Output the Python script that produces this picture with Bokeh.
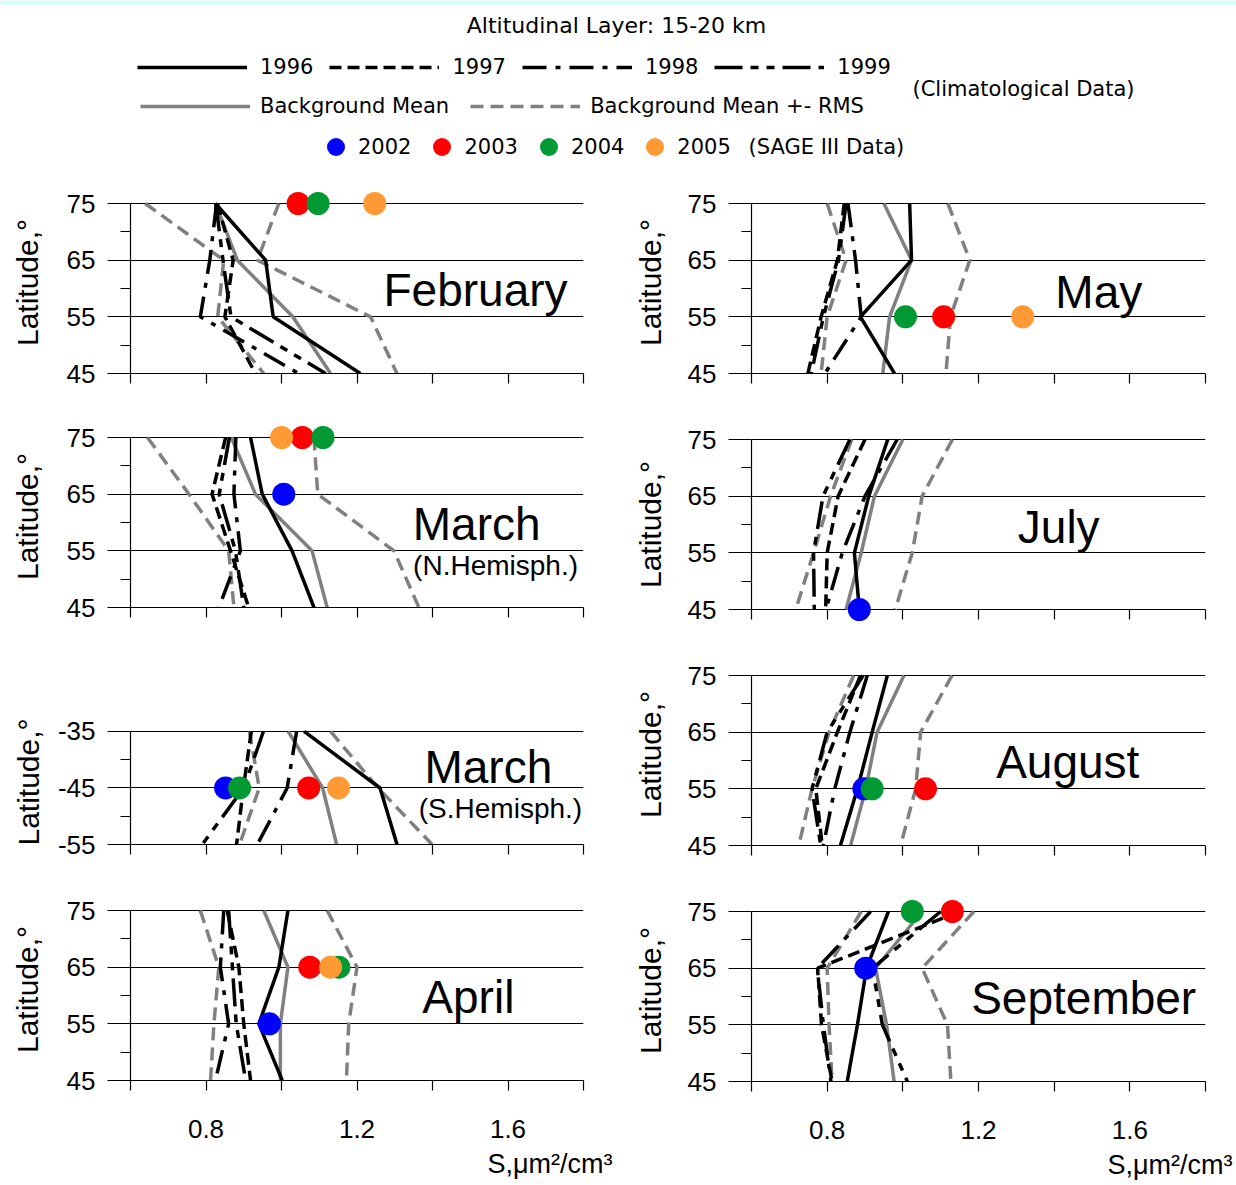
from bokeh.plotting import figure
from bokeh.models import Range1d, FixedTicker, Label, Legend, LegendItem, ColumnDataSource, BoxAnnotation
from bokeh.layouts import column, row
from bokeh.embed import file_html
from bokeh.resources import INLINE

# ---------------- data ----------------
LAT_N = [75, 65, 55, 45]
LAT_S = [-35, -45, -55]
MINOR_N = [70, 60, 50]
MINOR_S = [-40, -50]
X_MAJOR = [0.8, 1.2, 1.6]
X_MINOR = [0.6, 1.0, 1.4, 1.8]
CLIM_YEARS = ["1996", "1997", "1998", "1999"]
SAGE_YEARS = ["2002", "2003", "2004", "2005"]

# February (N. hemisphere, lat 75..45)
feb_1996 = [0.825, 0.958, 0.978, 1.209]
feb_1997 = [0.830, 0.872, 0.850, 0.931]
feb_1998 = [0.828, 0.810, 0.785, 1.046]
feb_1999 = [0.826, 0.845, 0.866, 1.117]
feb_mean = [0.825, 0.883, 1.030, 1.130]
feb_rms_lo = [0.639, 0.847, 0.831, 0.953]
feb_rms_hi = [0.993, 0.936, 1.236, 1.306]
feb_sage_year = ["2003", "2004", "2005"]
feb_sage_lat = [75, 75, 75]
feb_sage_val = [1.044, 1.097, 1.247]

# March (N. hemisphere)
marn_1996 = [0.918, 0.949, 1.028, 1.086]
marn_1997 = [0.852, 0.816, 0.865, 0.913]
marn_1998 = [0.879, 0.874, 0.891, 0.834]
marn_1999 = [0.862, 0.835, 0.878, 0.900]
marn_mean = [0.867, 0.931, 1.081, 1.121]
marn_rms_lo = [0.645, 0.755, 0.860, 0.874]
marn_rms_hi = [1.086, 1.096, 1.298, 1.364]
marn_sage_year = ["2002", "2003", "2004", "2005"]
marn_sage_lat = [65, 75, 75, 75]
marn_sage_val = [1.006, 1.055, 1.110, 1.000]

# March (S. hemisphere, lat -35..-55)
mars_1996 = [1.060, 1.261, 1.306]
mars_1997 = [0.920, 0.899, 0.881]
mars_1998 = [1.040, 1.015, 0.936]
mars_1999 = [0.952, 0.900, 0.790]
mars_mean = [1.018, 1.109, 1.146]
mars_rms_lo = [0.915, 0.941, 0.889]
mars_rms_hi = [1.130, 1.256, 1.399]
mars_sage_year = ["2002", "2003", "2004", "2005"]
mars_sage_lat = [-45, -45, -45, -45]
mars_sage_val = [0.852, 1.072, 0.889, 1.151]

# April
apr_1996 = [1.017, 0.993, 0.940, 1.002]
apr_1997 = [0.856, 0.887, 0.900, 0.918]
apr_1998 = [0.847, 0.838, 0.860, 0.825]
apr_1999 = [0.860, 0.870, 0.880, 0.905]
apr_mean = [0.953, 1.017, 0.997, 0.997]
apr_rms_lo = [0.785, 0.834, 0.821, 0.812]
apr_rms_hi = [1.121, 1.200, 1.178, 1.172]
apr_sage_year = ["2002", "2003", "2004", "2005"]
apr_sage_lat = [55, 65, 65, 65]
apr_sage_val = [0.968, 1.075, 1.152, 1.130]

# May
may_1996 = [1.018, 1.023, 0.888, 0.978]
may_1997 = [0.845, 0.827, 0.784, 0.749]
may_1998 = [0.855, 0.875, 0.890, 0.794]
may_1999 = [0.850, 0.830, 0.790, 0.758]
may_mean = [0.950, 1.023, 0.965, 0.947]
may_rms_lo = [0.800, 0.850, 0.800, 0.784]
may_rms_hi = [1.119, 1.177, 1.126, 1.114]
may_sage_year = ["2003", "2004", "2005"]
may_sage_lat = [55, 55, 55]
may_sage_val = [1.108, 1.007, 1.317]

# July
jul_1996 = [0.960, 0.910, 0.872, 0.885]
jul_1997 = [0.900, 0.829, 0.800, 0.796]
jul_1998 = [0.985, 0.900, 0.840, 0.797]
jul_1999 = [0.860, 0.789, 0.764, 0.766]
jul_mean = [1.000, 0.925, 0.890, 0.850]
jul_rms_lo = [0.865, 0.809, 0.764, 0.717]
jul_rms_hi = [1.131, 1.051, 1.025, 0.980]
jul_sage_year = ["2002"]
jul_sage_lat = [45]
jul_sage_val = [0.885]

# August
aug_1996 = [0.959, 0.919, 0.880, 0.835]
aug_1997 = [0.888, 0.827, 0.770, 0.787]
aug_1998 = [0.906, 0.860, 0.820, 0.790]
aug_1999 = [0.895, 0.800, 0.760, 0.783]
aug_mean = [1.003, 0.932, 0.902, 0.862]
aug_rms_lo = [0.870, 0.805, 0.760, 0.725]
aug_rms_hi = [1.130, 1.047, 1.034, 0.994]
aug_sage_year = ["2002", "2003", "2004"]
aug_sage_lat = [55, 55, 55]
aug_sage_val = [0.897, 1.060, 0.919]

# September
sep_1996 = [0.962, 0.904, 0.880, 0.853]
sep_1997 = [1.150, 0.775, 0.785, 0.813]
sep_1998 = [0.915, 0.774, 0.790, 0.810]
sep_1999 = [1.100, 0.920, 0.946, 1.012]
sep_mean = [1.051, 0.928, 0.957, 0.977]
sep_rms_lo = [0.890, 0.800, 0.805, 0.813]
sep_rms_hi = [1.188, 1.051, 1.118, 1.127]
sep_sage_year = ["2002", "2003", "2004"]
sep_sage_lat = [65, 75, 75]
sep_sage_val = [0.902, 1.131, 1.025]

# ---------------- styles ----------------
BLACK = "#000000"
GRAY = "#808080"
SAGE_COLOR = {"2002": "#0000ff", "2003": "#ff0000", "2004": "#009933", "2005": "#ff9933"}
LW = 3.5
CLIM_STYLE = {
    "1996": dict(line_color=BLACK, line_dash="solid"),
    "1997": dict(line_color=BLACK, line_dash="12 6"),
    "1998": dict(line_color=BLACK, line_dash="24 9 5 9"),
    "1999": dict(line_color=BLACK, line_dash="28 8 8 8 8 8"),
}
MEAN_STYLE = dict(line_color=GRAY, line_dash="solid")
RMS_STYLE = dict(line_color=GRAY, line_dash="13 7")
TICK_FONT = "Liberation Sans"
HDR_FONT = "DejaVu Sans"
PPD = 170.0 / 30.0      # pixels per degree latitude


def make_panel(lats, minor, s96, s97, s98, s99, mean, lo, hi, syear, slat, sval,
               month, month_xy, sub, sub_xy, left, bt, bb, bottom, ystand, bpad):
    lo_lat, hi_lat = min(lats), max(lats)
    span = hi_lat - lo_lat
    top_px = 12.0
    frame_h = int(round(span * PPD + top_px + bpad))
    pad_top = top_px / PPD
    pad_bot = bpad / PPD
    bl, br = (130, 35) if left else (133, 31)
    H = bt + frame_h + bb
    p = figure(width=618, height=H, x_range=Range1d(0.6, 1.8),
               y_range=Range1d(lo_lat - pad_bot, hi_lat + pad_top),
               output_backend="svg", toolbar_location=None,
               min_border_left=bl, min_border_right=br,
               min_border_top=bt, min_border_bottom=bb,
               title_location="below")
    p.outline_line_color = None
    p.background_fill_color = "white"
    p.border_fill_color = "white"
    p.xgrid.visible = False
    yg = p.ygrid[0]
    yg.ticker = FixedTicker(ticks=lats)
    yg.grid_line_color = BLACK
    yg.grid_line_width = 1.2

    ya = p.yaxis[0]
    ya.ticker = FixedTicker(ticks=lats, minor_ticks=minor)
    ya.bounds = (lo_lat, hi_lat)
    ya.major_tick_out = 23
    ya.major_tick_in = 0
    ya.minor_tick_out = 10
    ya.minor_tick_in = 0
    ya.major_tick_line_width = 1.2
    ya.minor_tick_line_width = 1.2
    ya.axis_line_width = 1.2
    ya.major_label_standoff = 12
    ya.major_label_text_font = TICK_FONT
    ya.major_label_text_font_size = "26px"
    ya.major_label_text_color = BLACK
    ya.major_label_overrides = {v: str(v) for v in lats}
    ya.axis_label = "Latitude,°"
    ya.axis_label_text_font = TICK_FONT
    ya.axis_label_text_font_size = "30px"
    ya.axis_label_text_font_style = "normal"
    ya.axis_label_text_color = BLACK
    ya.axis_label_standoff = ystand

    xa = p.xaxis[0]
    if bottom:
        xa.ticker = FixedTicker(ticks=X_MAJOR, minor_ticks=X_MINOR)
    else:
        xa.ticker = FixedTicker(ticks=[], minor_ticks=sorted(X_MAJOR + X_MINOR))
    # ticks hang 10 px below the lowest latitude line
    xa.major_tick_in = int(bpad)
    xa.major_tick_out = 10 - int(bpad)
    xa.minor_tick_in = int(bpad)
    xa.minor_tick_out = 10 - int(bpad)
    xa.major_tick_line_width = 1.2
    xa.minor_tick_line_width = 1.2
    xa.axis_line_width = 1.2
    if bpad > 0:
        xa.axis_line_color = None
    xa.major_label_text_font = TICK_FONT
    xa.major_label_text_color = BLACK
    xa.major_label_text_font_size = "26px"
    xa.major_label_standoff = 29

    # background mean +- RMS and mean
    p.line(lo, lats, line_width=LW, **RMS_STYLE)
    p.line(hi, lats, line_width=LW, **RMS_STYLE)
    p.line(mean, lats, line_width=LW, **MEAN_STYLE)
    # climatological years
    for yr, vals in zip(CLIM_YEARS, [s96, s97, s98, s99]):
        p.line(vals, lats, line_width=LW, **CLIM_STYLE[yr])
    # SAGE III points, drawn in year order
    order = sorted(range(len(syear)), key=lambda i: syear[i])
    src = ColumnDataSource(dict(
        x=[sval[i] for i in order],
        y=[slat[i] for i in order],
        c=[SAGE_COLOR[syear[i]] for i in order],
    ))
    p.scatter("x", "y", source=src, size=23, fill_color="c", line_color=None)

    p.add_layout(Label(x=month_xy[0], y=month_xy[1], text=month, text_align="center",
                       text_baseline="middle", text_font=TICK_FONT, text_font_size="46px",
                       text_color=BLACK))
    if sub:
        p.add_layout(Label(x=sub_xy[0], y=sub_xy[1], text=sub, text_align="center",
                           text_baseline="middle", text_font=TICK_FONT, text_font_size="28px",
                           text_color=BLACK))
    if bottom:
        p.title.text = "S,μm²/cm³"
        p.title.align = "right"
        p.title.offset = -29 if left else -27
        p.title.text_font = TICK_FONT
        p.title.text_font_size = "27px"
        p.title.text_font_style = "normal"
        p.title.text_color = BLACK
        p.title.standoff = 12
    return p


left_col = [
    make_panel(LAT_N, MINOR_N, feb_1996, feb_1997, feb_1998, feb_1999, feb_mean, feb_rms_lo, feb_rms_hi,
               feb_sage_year, feb_sage_lat, feb_sage_val, "February", (1.514, 59.65), None, None,
               True, 11, 42, False, 20, 0),
    make_panel(LAT_N, MINOR_N, marn_1996, marn_1997, marn_1998, marn_1999, marn_mean, marn_rms_lo, marn_rms_hi,
               marn_sage_year, marn_sage_lat, marn_sage_val, "March", (1.517, 59.8), "(N.Hemisph.)", (1.567, 52.4),
               True, 10, 42, False, 20, 0),
    make_panel(LAT_S, MINOR_S, mars_1996, mars_1997, mars_1998, mars_1999, mars_mean, mars_rms_lo, mars_rms_hi,
               mars_sage_year, mars_sage_lat, mars_sage_val, "March", (1.548, -41.35), "(S.Hemisph.)", (1.580, -48.6),
               True, 70, 42, False, 10, 0),
    make_panel(LAT_N, MINOR_N, apr_1996, apr_1997, apr_1998, apr_1999, apr_mean, apr_rms_lo, apr_rms_hi,
               apr_sage_year, apr_sage_lat, apr_sage_val, "April", (1.495, 59.65), None, None,
               True, 12, 105, True, 20, 0),
]
right_col = [
    make_panel(LAT_N, MINOR_N, may_1996, may_1997, may_1998, may_1999, may_mean, may_rms_lo, may_rms_hi,
               may_sage_year, may_sage_lat, may_sage_val, "May", (1.518, 59.3), None, None,
               False, 11, 42, False, 18, 0),
    make_panel(LAT_N, MINOR_N, jul_1996, jul_1997, jul_1998, jul_1999, jul_mean, jul_rms_lo, jul_rms_hi,
               jul_sage_year, jul_sage_lat, jul_sage_val, "July", (1.412, 59.5), None, None,
               False, 12, 30, False, 18, 12),
    make_panel(LAT_N, MINOR_N, aug_1996, aug_1997, aug_1998, aug_1999, aug_mean, aug_rms_lo, aug_rms_hi,
               aug_sage_year, aug_sage_lat, aug_sage_val, "August", (1.436, 59.65), None, None,
               False, 12, 42, False, 18, 0),
    make_panel(LAT_N, MINOR_N, sep_1996, sep_1997, sep_1998, sep_1999, sep_mean, sep_rms_lo, sep_rms_hi,
               sep_sage_year, sep_sage_lat, sep_sage_val, "September", (1.478, 59.8), None, None,
               False, 12, 104, True, 18, 0),
]

# ---------------- header with legends ----------------
HDR_H = 180
hdr = figure(width=1236, height=HDR_H, x_range=Range1d(0, 1236), y_range=Range1d(0, HDR_H),
             output_backend="svg", toolbar_location=None, x_axis_type=None, y_axis_type=None,
             min_border=0)
hdr.outline_line_color = None
for g in hdr.grid:
    g.visible = False

# pale cyan strip along the top edge of the page
hdr.add_layout(BoxAnnotation(bottom=HDR_H - 4, top=HDR_H, fill_color="#ccffff", fill_alpha=1.0,
                             line_color=None))

# legend-key renderers hold one point/segment outside the visible header area
OFF_X = [-50, -40]
OFF_Y = [-50, -50]
clim_r = [hdr.line(x=OFF_X, y=OFF_Y, line_width=LW, **CLIM_STYLE[yr]) for yr in CLIM_YEARS]
mean_r = hdr.line(x=OFF_X, y=OFF_Y, line_width=LW, **MEAN_STYLE)
rms_r = hdr.line(x=OFF_X, y=OFF_Y, line_width=LW, **RMS_STYLE)
sage_r = [hdr.scatter(x=OFF_X[:1], y=OFF_Y[:1], size=18, fill_color=SAGE_COLOR[yr], line_color=None)
          for yr in SAGE_YEARS]

common = dict(orientation="horizontal", padding=0, margin=0, border_line_color=None,
              background_fill_alpha=0, label_text_font=HDR_FONT, label_text_font_size="21px",
              label_text_color=BLACK)
leg1 = Legend(items=[LegendItem(label=yr, renderers=[r]) for yr, r in zip(CLIM_YEARS, clim_r)],
              location=(137, HDR_H - 80), glyph_width=110, glyph_height=26, label_standoff=13,
              spacing=16, **common)
leg2 = Legend(items=[LegendItem(label="Background Mean", renderers=[mean_r]),
                     LegendItem(label="Background Mean +- RMS", renderers=[rms_r])],
              location=(140, HDR_H - 119), glyph_width=110, glyph_height=26, label_standoff=10,
              spacing=21, **common)
leg3 = Legend(items=[LegendItem(label=yr, renderers=[r]) for yr, r in zip(SAGE_YEARS, sage_r)],
              location=(313, HDR_H - 169), glyph_width=45, glyph_height=45, label_standoff=0,
              spacing=8, **common)
for lg in (leg1, leg2, leg3):
    hdr.add_layout(lg)

hdr.add_layout(Label(x=616, y=HDR_H - 25, text="Altitudinal Layer: 15-20 km", text_align="center",
                     text_baseline="middle", text_font=HDR_FONT, text_font_size="22px", text_color=BLACK))
hdr.add_layout(Label(x=912, y=HDR_H - 88, text="(Climatological Data)", text_align="left",
                     text_baseline="middle", text_font=HDR_FONT, text_font_size="21px", text_color=BLACK))
hdr.add_layout(Label(x=748, y=HDR_H - 146, text="(SAGE III Data)", text_align="left",
                     text_baseline="middle", text_font=HDR_FONT, text_font_size="21px", text_color=BLACK))

layout = column(hdr, row(column(*left_col), column(*right_col)))

open("out.html", "w").write(file_html(layout, INLINE))
